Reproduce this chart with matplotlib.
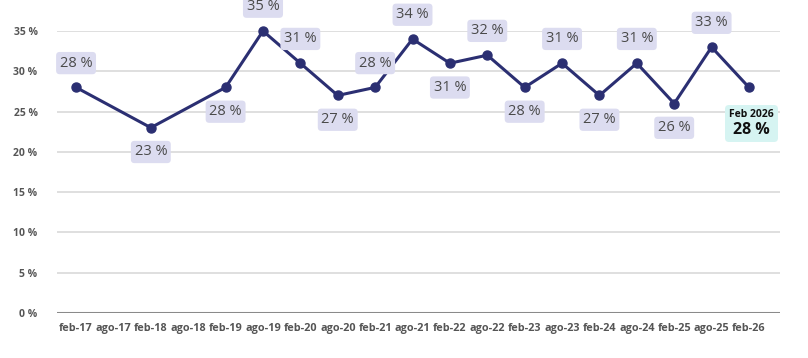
import numpy as np
import matplotlib.pyplot as plt
from matplotlib.offsetbox import AnnotationBbox, TextArea, VPacker

plt.rcParams['font.family'] = ['Open Sans', 'DejaVu Sans']

# categories on the x axis
tick_labels = ['feb-17', 'ago-17', 'feb-18', 'ago-18', 'feb-19', 'ago-19', 'feb-20',
               'ago-20', 'feb-21', 'ago-21', 'feb-22', 'ago-22', 'feb-23', 'ago-23',
               'feb-24', 'ago-24', 'feb-25', 'ago-25', 'feb-26']
# observed points (ago-17 and ago-18 have no data)
point_labels = ['feb-17', 'feb-18', 'feb-19', 'ago-19', 'feb-20', 'ago-20', 'feb-21',
                'ago-21', 'feb-22', 'ago-22', 'feb-23', 'ago-23', 'feb-24', 'ago-24',
                'feb-25', 'ago-25', 'feb-26']
values = [28, 23, 28, 35, 31, 27, 28, 34, 31, 32, 28, 31, 27, 31, 26, 33, 28]
label_side = ['up', 'down', 'down', 'up', 'up', 'down', 'up', 'up', 'down', 'up',
              'down', 'up', 'down', 'up', 'down', 'up', 'last']
last_title = 'Feb 2026'
yticks = [0, 5, 10, 15, 20, 25, 30, 35]

x = np.array([tick_labels.index(p) for p in point_labels])
y = np.array(values)

fig = plt.figure(figsize=(8.08, 3.58), dpi=100)
ax = fig.add_axes([57 / 808, 1 - 313 / 358, (780 - 57) / 808, (313 - 31) / 358])

for t in yticks[1:]:
    ax.axhline(t, color='#d9d9d9', lw=1.2, zorder=0)
ax.axhline(0, color='#8a8a8a', lw=2.2, zorder=1)

ax.plot(x, y, color='#2b2f72', lw=2.2, marker='o', ms=6.5, zorder=3, clip_on=False)

box = dict(boxstyle='round,pad=0.25,rounding_size=0.25', fc='#dcdcf0', ec='none')
for xi, yi, side in zip(x, y, label_side):
    if side == 'last':
        # highlighted callout for the latest value
        title = TextArea(last_title, textprops=dict(fontsize=7.5, fontweight='bold',
                                                    color='#111111'))
        val = TextArea(f'{yi} %', textprops=dict(fontsize=11.5, fontweight='bold',
                                                 color='#111111'))
        pack = VPacker(children=[title, val], align='center', pad=0, sep=1)
        ab = AnnotationBbox(pack, (xi, yi), xybox=(2, -26), boxcoords='offset points',
                            frameon=True, pad=0.65, annotation_clip=False,
                            bboxprops=dict(boxstyle='round,rounding_size=0.3',
                                           fc='#d6f4f2', ec='none'))
        ab.set_zorder(4)
        ax.add_artist(ab)
        continue
    dy = 17.5 if side == 'up' else -17.5
    ax.annotate(f'{yi} %', (xi, yi), xytext=(0, dy), textcoords='offset points',
                ha='center', va='center', fontsize=10.5, color='#4a4a4a',
                bbox=box, zorder=4, annotation_clip=False)

ax.set_xlim(-0.51, 18.83)
ax.set_ylim(0, 35)
ax.set_xticks(range(len(tick_labels)))
ax.set_xticklabels(tick_labels, fontsize=7.8, fontweight='bold', color='#555555')
ax.set_yticks(yticks)
ax.set_yticklabels([f'{t} %' for t in yticks], fontsize=7.5, fontweight='bold', color='#555555')
ax.tick_params(axis='x', length=0, pad=7)
ax.tick_params(axis='y', length=0, pad=14)
for s in ax.spines.values():
    s.set_visible(False)

fig.savefig('out.png', dpi=100)
